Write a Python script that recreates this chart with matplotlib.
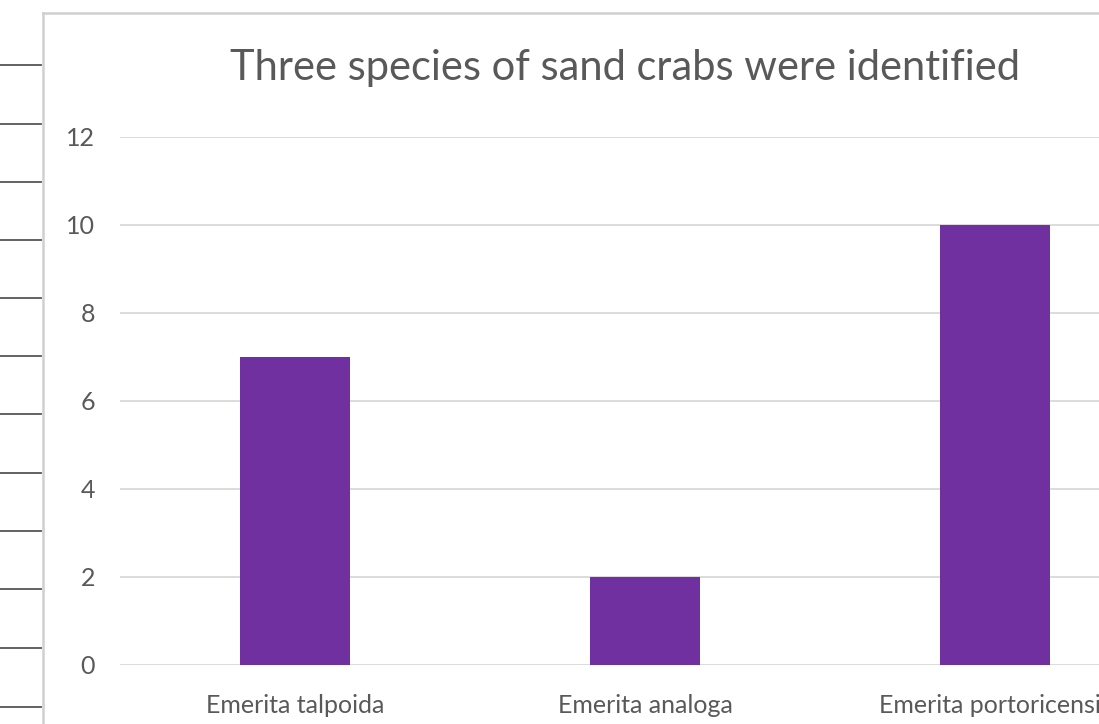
import matplotlib
matplotlib.use("Agg")
import matplotlib.pyplot as plt
from matplotlib.lines import Line2D

# data
species = ["Emerita talpoida", "Emerita analoga", "Emerita portoricensis"]
counts = [7, 2, 10]
yticks = [0, 2, 4, 6, 8, 10, 12]

plt.rcParams['font.family'] = ['Lato', 'DejaVu Sans']
textColor = '#595959'
gridColor = '#D9D9D9'

W, H = 1099, 724
fig = plt.figure(figsize=(W / 100, H / 100), dpi=100)

# spreadsheet cell lines peeking in on the left of the screenshot
for yPix in [65, 124, 182, 240, 298, 356, 414, 473, 531, 589, 648, 707]:
    fig.add_artist(Line2D([0, 41 / W], [1 - yPix / H, 1 - yPix / H], color='#555555', linewidth=1.3))
# chart area border
fig.add_artist(Line2D([43 / W, 43 / W], [0, 1 - 13 / H], color='#D0D0D0', linewidth=1.8))
fig.add_artist(Line2D([43 / W, 1], [1 - 13 / H, 1 - 13 / H], color='#D0D0D0', linewidth=1.8))

ax = fig.add_axes([120 / W, (H - 665) / H, 1050 / W, 528 / H])
x = range(len(species))
ax.bar(x, counts, width=0.315, color='#7030A0', zorder=3)
ax.set_xlim(-0.5, 2.5)
ax.set_ylim(0, 12)
ax.set_yticks(yticks)
ax.set_xticks(list(x))
ax.set_xticklabels(species)
ax.grid(axis='y', color=gridColor, linewidth=1.3, zorder=0)
for s in ax.spines.values():
    s.set_visible(False)
ax.tick_params(axis='both', length=0, colors=textColor, labelsize=18)
ax.tick_params(axis='y', pad=18)
ax.tick_params(axis='x', pad=21)
ax.set_facecolor('none')

fig.text(625 / W, 1 - 68 / H, "Three species of sand crabs were identified",
         ha='center', va='center', fontsize=30, color=textColor)

fig.savefig("out.png", dpi=100)
